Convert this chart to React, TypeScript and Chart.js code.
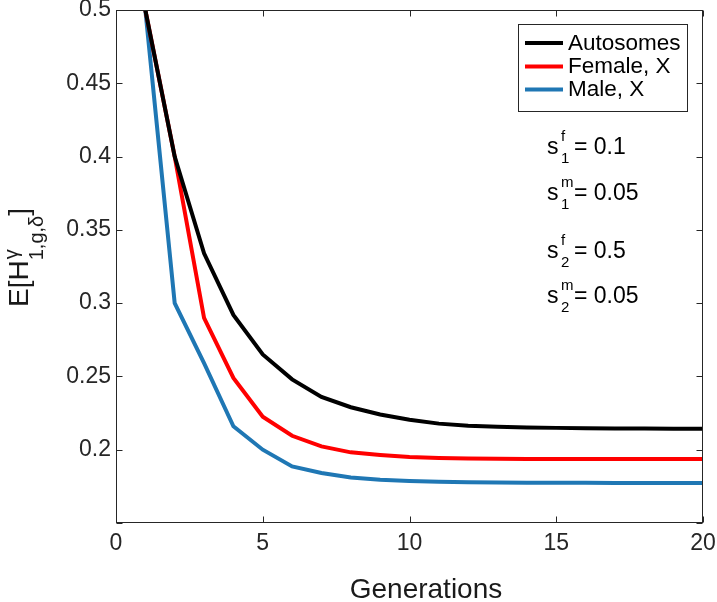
import React, { useEffect, useRef } from "react";
import { Chart, registerables } from "chart.js";

Chart.register(...registerables);

const generations = [1, 2, 3, 4, 5, 6, 7, 8, 9, 10, 11, 12, 13, 14, 15, 16, 17, 18, 19, 20];
const autosomes = [0.5, 0.4, 0.334, 0.292, 0.265, 0.248, 0.236, 0.229, 0.224, 0.2205, 0.2178, 0.2164, 0.2157, 0.2152, 0.2149, 0.2147, 0.2145, 0.2144, 0.2143, 0.2143];
const femaleX = [0.5, 0.4, 0.29, 0.249, 0.2225, 0.2095, 0.2023, 0.1982, 0.1964, 0.195, 0.1944, 0.194, 0.1938, 0.1937, 0.1936, 0.1936, 0.1936, 0.1936, 0.1936, 0.1936];
const maleX = [0.5, 0.3, 0.259, 0.216, 0.2, 0.1886, 0.1841, 0.1811, 0.1795, 0.1786, 0.1781, 0.1778, 0.1776, 0.1775, 0.1774, 0.1774, 0.1773, 0.1773, 0.1773, 0.1773];

const seriesLabels = ["Autosomes", "Female, X", "Male, X"];
const seriesColors = ["#000000", "#ff0000", "#1f77b4"];

const annoSup = ["f", "m", "f", "m"];
const annoSub = ["1", "1", "2", "2"];
const annoVal = ["0.1", "0.05", "0.5", "0.05"];

const xTitle = "Generations";

const FONT = "'Liberation Sans', Arial, Helvetica, sans-serif";
const AXIS_COLOR = "#262626";

const zeroPad = (s: any) => {
  s.paddingLeft = 0;
  s.paddingRight = 0;
  s.paddingTop = 0;
  s.paddingBottom = 0;
};

const overlayPlugin = {
  id: "overlay",
  afterDraw(chart: any) {
    const ctx = chart.ctx as CanvasRenderingContext2D;
    const a = chart.chartArea;
    const xs = chart.scales.x;
    const ys = chart.scales.y;
    ctx.save();
    // frame
    const L = Math.round(a.left) + 0.5;
    const T = Math.round(a.top) + 0.5;
    const R = Math.round(a.right) - 0.5;
    const B = Math.round(a.bottom) - 0.5;
    ctx.strokeStyle = AXIS_COLOR;
    ctx.lineWidth = 1;
    ctx.strokeRect(L, T, R - L, B - T);
    // inside ticks
    const tl = 6;
    ctx.beginPath();
    xs.ticks.forEach((t: any) => {
      const px = Math.round(xs.getPixelForValue(t.value)) + 0.5;
      ctx.moveTo(px, B);
      ctx.lineTo(px, B - tl);
      ctx.moveTo(px, T);
      ctx.lineTo(px, T + tl);
    });
    ys.ticks.forEach((t: any) => {
      const py = Math.round(ys.getPixelForValue(t.value)) + 0.5;
      ctx.moveTo(L, py);
      ctx.lineTo(L + tl, py);
      ctx.moveTo(R, py);
      ctx.lineTo(R - tl, py);
    });
    ctx.stroke();

    // legend
    const bx = 518.5, by = 24.5, bw = 169, bh = 87;
    ctx.fillStyle = "#ffffff";
    ctx.fillRect(bx, by, bw, bh);
    ctx.strokeStyle = AXIS_COLOR;
    ctx.lineWidth = 1;
    ctx.strokeRect(bx, by, bw, bh);
    const rows = [43, 66.5, 89.5];
    chart.data.datasets.forEach((ds: any, i: number) => {
      const y = rows[i];
      ctx.strokeStyle = ds.borderColor;
      ctx.lineWidth = 4;
      ctx.beginPath();
      ctx.moveTo(525, y);
      ctx.lineTo(563, y);
      ctx.stroke();
      ctx.fillStyle = "#000000";
      ctx.font = `22.5px ${FONT}`;
      ctx.textAlign = "left";
      ctx.textBaseline = "middle";
      ctx.fillText(ds.label, 568, y + 0.5);
    });

    // annotations
    const baselines = [154, 200, 258, 303];
    ctx.fillStyle = "#000000";
    ctx.textBaseline = "alphabetic";
    ctx.textAlign = "left";
    annoVal.forEach((v, i) => {
      const b = baselines[i];
      ctx.font = `23px ${FONT}`;
      ctx.fillText("s", 547, b);
      ctx.font = `15px ${FONT}`;
      ctx.fillText(annoSup[i], 561, b - 13);
      ctx.fillText(annoSub[i], 561, b + 9);
      ctx.font = `23px ${FONT}`;
      ctx.fillText("= " + v, 574, b);
    });

    // x title
    ctx.font = `28px ${FONT}`;
    ctx.textAlign = "center";
    ctx.fillStyle = "#1a1a1a";
    ctx.fillText(xTitle, 426, 598);

    // y title: E[H^γ_{1,g,δ}]
    ctx.translate(28, 257.5);
    ctx.rotate(-Math.PI / 2);
    ctx.textAlign = "left";
    ctx.textBaseline = "alphabetic";
    const mainF = `28px ${FONT}`;
    const smallF = `20px ${FONT}`;
    ctx.font = mainF;
    const w1 = ctx.measureText("E[H").width;
    const w3 = ctx.measureText("]").width;
    ctx.font = smallF;
    const wSup = ctx.measureText("\u03b3").width;
    const wSub = ctx.measureText("1,g,\u03b4").width;
    const w2 = Math.max(wSup, wSub);
    const total = w1 + w2 + w3;
    let x = -total / 2;
    ctx.font = mainF;
    ctx.fillText("E[H", x, 0);
    x += w1;
    ctx.font = smallF;
    ctx.fillText("\u03b3", x + 1, -10);
    ctx.fillText("1,g,\u03b4", x, 15);
    x += w2;
    ctx.font = mainF;
    ctx.fillText("]", x, 0);
    ctx.restore();
  },
};

export default function App() {
  const ref = useRef<HTMLCanvasElement | null>(null);
  useEffect(() => {
    if (!ref.current) return;
    const series = [autosomes, femaleX, maleX];
    const chart = new Chart(ref.current, {
      type: "line",
      data: {
        datasets: series.map((vals, i) => ({
          label: seriesLabels[i],
          data: generations.map((g, j) => ({ x: g, y: vals[j] })),
          borderColor: seriesColors[i],
          backgroundColor: seriesColors[i],
          borderWidth: 4,
          pointRadius: 0,
          tension: 0,
          fill: false,
          order: i,
        })),
      },
      options: {
        responsive: false,
        animation: false,
        devicePixelRatio: 1,
        layout: { padding: { top: 10, right: 14, left: 0, bottom: 0 } },
        plugins: {
          legend: { display: false },
          tooltip: { enabled: false },
          title: { display: false },
        },
        scales: {
          x: {
            type: "linear",
            min: 0,
            max: 20,
            grid: { display: false, drawTicks: false },
            border: { display: false },
            ticks: {
              stepSize: 5,
              padding: 7,
              color: AXIS_COLOR,
              font: { size: 23, family: FONT },
              maxRotation: 0,
            },
            afterFit: (s: any) => {
              s.height = 79;
              zeroPad(s);
            },
          },
          y: {
            type: "linear",
            min: 0.15,
            max: 0.5,
            grid: { display: false, drawTicks: false },
            border: { display: false },
            ticks: {
              stepSize: 0.05,
              padding: 5,
              color: AXIS_COLOR,
              font: { size: 23, family: FONT },
              callback: (v: any) => (Math.abs(Number(v) - 0.15) < 1e-9 ? "" : String(+Number(v).toFixed(2))),
            },
            afterFit: (s: any) => {
              s.width = 116;
              zeroPad(s);
            },
          },
        },
      },
      plugins: [overlayPlugin],
    });
    return () => chart.destroy();
  }, []);
  return (
    <div style={{ position: "absolute", left: 0, top: 0, width: 717, height: 602, background: "#ffffff" }}>
      <canvas ref={ref} width={717} height={602} style={{ display: "block" }} />
    </div>
  );
}
